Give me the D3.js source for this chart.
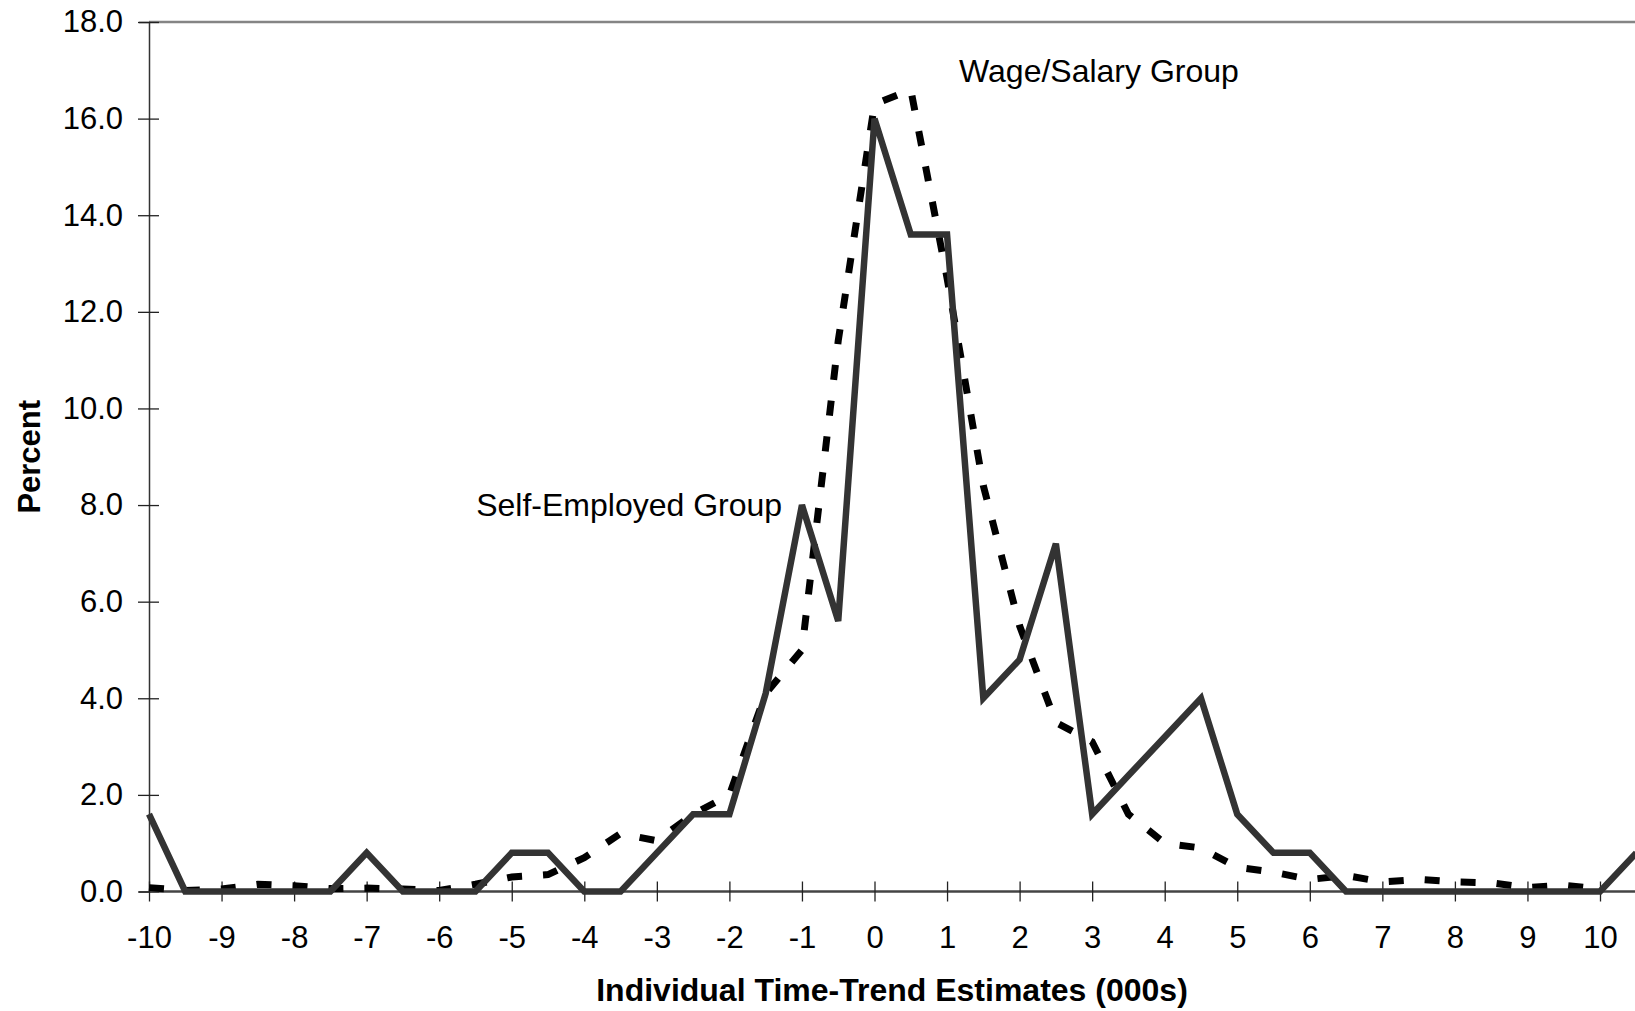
<!DOCTYPE html>
<html>
<head>
<meta charset="utf-8">
<script src="https://cdn.jsdelivr.net/npm/d3@7"></script>
<style>
  body { margin: 0; background: #fff; }
  svg text { font-family: "Liberation Sans", Arial, sans-serif; fill: #000; }
</style>
</head>
<body>
<div id="display"></div>
<script>
// x positions (000s), half-unit bins
const xValues = d3.range(-10, 10.51, 0.5).map(d => +d.toFixed(1));

// Self-Employed Group (solid)
const selfEmployed = [1.6, 0, 0, 0, 0, 0, 0.8, 0, 0, 0, 0.8, 0.8, 0, 0, 0.8, 1.6, 1.6, 4.1, 8.0, 5.6,
  16.0, 13.6, 13.6, 4.0, 4.8, 7.2, 1.6, 2.4, 3.2, 4.0, 1.6, 0.8, 0.8, 0, 0, 0, 0, 0, 0, 0, 0, 0.8];

// Wage/Salary Group (dashed) - stops at 10
const wageSalary = [0.08, 0.02, 0.05, 0.15, 0.12, 0.06, 0.07, 0.05, 0.02, 0.15, 0.3, 0.35, 0.7, 1.2, 1.05, 1.6, 2.0, 4.1, 5.0, 11.4,
  16.3, 16.6, 12.7, 8.4, 5.5, 3.5, 3.1, 1.6, 1.0, 0.9, 0.5, 0.4, 0.25, 0.33, 0.2, 0.25, 0.2, 0.18, 0.08, 0.13, 0.05];

const xTicks = d3.range(-10, 11, 1);
const yTicks = d3.range(0, 18.1, 2);

const width = 1635, height = 1011;
const plotLeft = 149, plotTop = 22, plotBottom = 891.5;

const svg = d3.select("#display").append("svg")
    .attr("width", width)
    .attr("height", height);

const x_scale = d3.scaleLinear().domain([-10, 10.5]).range([plotLeft, plotLeft + 20.5 * 72.55]);
const y_scale = d3.scaleLinear().domain([0, 18]).range([plotBottom, plotTop]);

// plot area frame (top edge visible, right runs off the page)
svg.append("line")
    .attr("x1", plotLeft).attr("x2", width + 5)
    .attr("y1", y_scale(18)).attr("y2", y_scale(18))
    .attr("stroke", "#858585").attr("stroke-width", 2.5);

// y axis
const gY = svg.append("g").attr("transform", `translate(${plotLeft},0)`)
    .call(d3.axisLeft(y_scale).tickValues(yTicks).tickFormat(d3.format(".1f")).tickSize(10).tickPadding(16));
gY.select(".domain").attr("stroke", "#333").attr("stroke-width", 1.5);
gY.selectAll(".tick line").attr("x1", -11).attr("x2", 10).attr("stroke", "#222").attr("stroke-width", 1.3);
gY.selectAll(".tick text").attr("x", -26).attr("font-size", 31).style("font-family", "Liberation Sans, Arial, sans-serif");

// x axis (plain hyphen for negatives, like the original)
const gX = svg.append("g").attr("transform", `translate(0,${plotBottom})`)
    .call(d3.axisBottom(x_scale).tickValues(xTicks).tickFormat(d => String(d)).tickSize(10));
gX.select(".domain").attr("d", `M${plotLeft},0H${width + 5}`).attr("stroke", "#444").attr("stroke-width", 2.5);
gX.selectAll(".tick line").attr("y1", -10).attr("y2", 10).attr("stroke", "#222").attr("stroke-width", 1.3);
gX.selectAll(".tick text").attr("y", 46).attr("dy", "0.35em").attr("font-size", 31)
    .style("font-family", "Liberation Sans, Arial, sans-serif");

// lines
const line = d3.line().x(d => x_scale(d[0])).y(d => y_scale(d[1]));

svg.append("path")
    .datum(wageSalary.map((v, i) => [xValues[i], v]))
    .attr("d", line)
    .attr("fill", "none")
    .attr("stroke", "#000")
    .attr("stroke-width", 7)
    .attr("stroke-dasharray", "15,21");

svg.append("path")
    .datum(selfEmployed.map((v, i) => [xValues[i], v]))
    .attr("d", line)
    .attr("fill", "none")
    .attr("stroke", "#333")
    .attr("stroke-width", 6.5);

// annotations
svg.append("text")
    .attr("x", x_scale(-5.49)).attr("y", y_scale(7.77))
    .attr("font-size", 32)
    .text("Self-Employed Group");
svg.append("text")
    .attr("x", x_scale(1.165)).attr("y", y_scale(16.76))
    .attr("font-size", 32)
    .text("Wage/Salary Group");

// axis titles
svg.append("text")
    .attr("x", (plotLeft + width) / 2).attr("y", 1001)
    .attr("text-anchor", "middle")
    .attr("font-size", 32).attr("font-weight", "bold")
    .text("Individual Time-Trend Estimates (000s)");
svg.append("text")
    .attr("transform", `translate(29,${(plotTop + plotBottom) / 2}) rotate(-90)`)
    .attr("text-anchor", "middle").attr("dy", "0.35em")
    .attr("font-size", 31).attr("font-weight", "bold")
    .text("Percent");
</script>
</body>
</html>
